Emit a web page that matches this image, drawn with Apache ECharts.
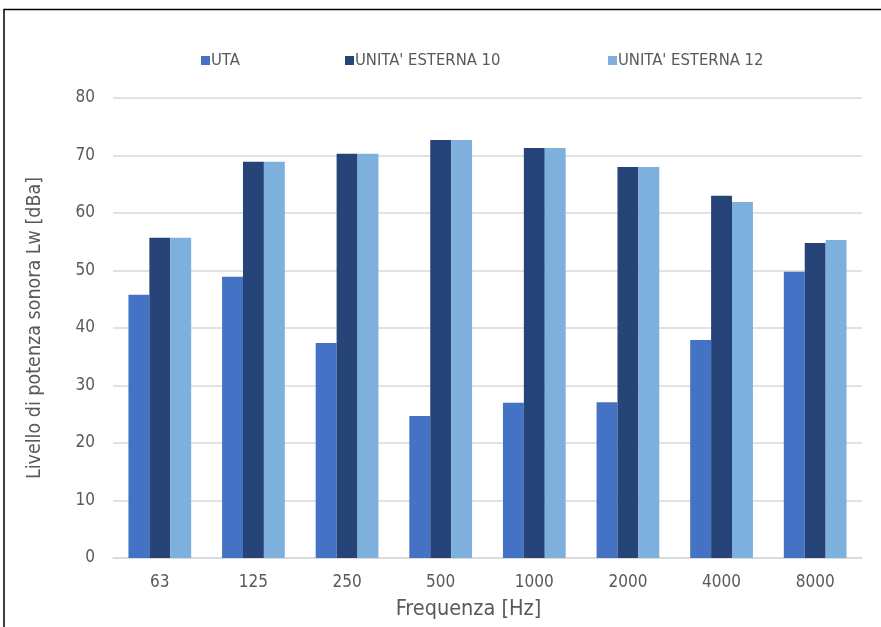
<!DOCTYPE html>
<html><head><meta charset="utf-8">
<script src="https://cdn.jsdelivr.net/npm/echarts@6/dist/echarts.min.js"></script>
<style>html,body{margin:0;padding:0;background:#fff}#c{width:881px;height:627px}</style>
</head><body><div id="c"></div>
<script>
const categories = ['63','125','250','500','1000','2000','4000','8000'];
const uta = [45.8, 48.9, 37.4, 24.7, 27.0, 27.1, 37.9, 49.8];
const est10 = [55.7, 68.9, 70.3, 72.7, 71.3, 68.0, 63.0, 54.8];
const est12 = [55.7, 68.9, 70.3, 72.7, 71.3, 68.0, 61.9, 55.3];
const yTicks = [0, 80, 10];
const names = ['UTA', "UNITA' ESTERNA 10", "UNITA' ESTERNA 12"];
const colors = ['#4472c4', '#264478', '#7eb0de'];
const font = '"DejaVu Sans Condensed", "Liberation Sans Narrow", "DejaVu Sans", sans-serif';

const chart = echarts.init(document.getElementById('c'));
const mk = (name, data, color) => ({
  name, type: 'bar', data, barGap: '0%', barCategoryGap: '33%',
  itemStyle: { color }, emphasis: { disabled: true }
});
const legendLefts = [201, 345, 608];
const legends = names.map((n, i) => ({
  data: [n], left: legendLefts[i], top: 52, padding: 0,
  itemWidth: 9, itemHeight: 9, icon: 'rect',
  textStyle: { color: '#595959', fontSize: 16.5, fontFamily: font, padding: [0, 0, 0, -4] }
}));
chart.setOption({
  animation: false,
  textStyle: { fontFamily: font },
  graphic: [{
    type: 'rect', shape: { x: 4, y: 9.5, width: 900, height: 700 },
    style: { fill: 'none', stroke: '#000', lineWidth: 1.5 }, silent: true
  }],
  legend: legends,
  grid: { left: 113, right: 19, top: 98, bottom: 69, outerBoundsMode: 'none', containLabel: false },
  xAxis: {
    type: 'category', data: categories,
    name: 'Frequenza [Hz]', nameLocation: 'middle', nameGap: 40,
    nameTextStyle: { color: '#595959', fontSize: 21.5, fontFamily: font, padding: [0, 38, 0, 0] },
    axisLine: { lineStyle: { color: '#d9d9d9', width: 1.5 } },
    axisTick: { show: false },
    axisLabel: { color: '#595959', fontSize: 17, margin: 16, fontFamily: font }
  },
  yAxis: {
    type: 'value', min: yTicks[0], max: yTicks[1], interval: yTicks[2],
    name: 'Livello di potenza sonora Lw [dBa]', nameLocation: 'middle', nameGap: 68,
    nameTextStyle: { color: '#595959', fontSize: 19.5, fontFamily: font },
    axisLine: { show: false }, axisTick: { show: false },
    splitLine: { lineStyle: { color: '#d9d9d9', width: 1.5 } },
    axisLabel: { color: '#595959', fontSize: 17, margin: 18, fontFamily: font }
  },
  series: [mk(names[0], uta, colors[0]), mk(names[1], est10, colors[1]), mk(names[2], est12, colors[2])]
});
</script></body></html>
